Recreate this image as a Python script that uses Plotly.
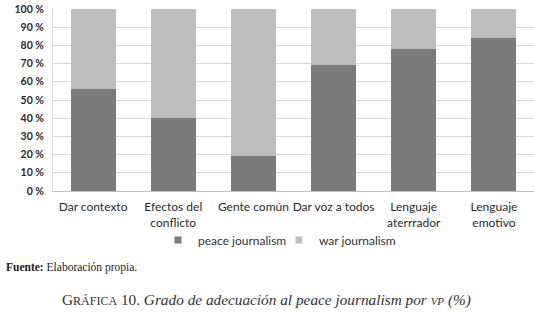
import plotly.graph_objects as go

categories = ["Dar contexto", "Efectos del<br>conflicto", "Gente común", "Dar voz a todos",
              "Lenguaje<br>aterrrador", "Lenguaje<br>emotivo"]
peace = [56, 40, 19, 69, 78, 84]
war = [44, 60, 81, 31, 22, 16]
series_names = ["peace journalism", "war journalism"]
series_colors = ["#7b7b7e", "#bdbdbf"]
yticks = [0, 10, 20, 30, 40, 50, 60, 70, 80, 90, 100]
yticklabels = [f"{v} %" for v in yticks]

fig = go.Figure()
for vals, name, col in zip([peace, war], series_names, series_colors):
    fig.add_bar(x=categories, y=vals, name=name, marker_color=col,
                marker_line_width=0, showlegend=False)
    # compact square legend marker
    fig.add_scatter(x=[None], y=[None], mode="markers", name=name,
                    marker=dict(symbol="square", size=7, color=col), showlegend=True)

L, W, T, B = 53, 481, 9, 182.0
def py(px):
    return (T + B - px) / B
def pxx(px):
    return (px - L) / W

fig.update_layout(
    barmode="stack",
    bargap=0.44,
    width=534, height=314,
    margin=dict(l=L, r=0, t=T, b=314 - T - int(B), pad=0, autoexpand=False),
    paper_bgcolor="white", plot_bgcolor="white",
    font=dict(family="Lato, sans-serif", color="#333333"),
    showlegend=True,
    legend=dict(orientation="h", x=pxx(158), xanchor="left", y=py(240), yanchor="middle",
                font=dict(size=12, color="#333333"), itemwidth=30, entrywidth=76,
                traceorder="normal", tracegroupgap=0, bgcolor="rgba(0,0,0,0)"),
    xaxis=dict(showgrid=False, showline=True, linecolor="#bfbfbf", linewidth=1,
               tickfont=dict(size=12, color="#2a2a2a"), ticks="", fixedrange=True,
               automargin=False, ticklabelstandoff=5),
    yaxis=dict(range=[0, 100], tickvals=yticks, ticktext=yticklabels,
               showgrid=True, gridcolor="#d9d9d9", gridwidth=1,
               showline=True, linecolor="#d9d9d9", zeroline=False,
               tickfont=dict(size=10.5, color="#2a2a2a", family="Lato, sans-serif", weight="bold"),
               ticks="", ticklabelstandoff=6, fixedrange=True, automargin=False),
    annotations=[
        dict(text="<b>Fuente:</b> Elaboración propia.", xref="paper", yref="paper",
             x=pxx(4), y=py(267), xanchor="left", yanchor="middle", showarrow=False,
             font=dict(family="Liberation Serif, serif", size=11.5, color="#222222")),
        dict(text="G<span style='font-size:12px'>RÁFICA</span> 10. <i>Grado de adecuación al peace journalism por </i><span style='font-size:11px'><i>VP</i></span><i> (%)</i>",
             xref="paper", yref="paper", x=pxx(266), y=py(300), xanchor="center",
             yanchor="middle", showarrow=False,
             font=dict(family="Liberation Serif, serif", size=15.3, color="#333333")),
    ],
)

fig.write_html("out.html", config={"displayModeBar": False},
               post_script="document.body.style.margin='0px';document.body.style.overflow='hidden';")
